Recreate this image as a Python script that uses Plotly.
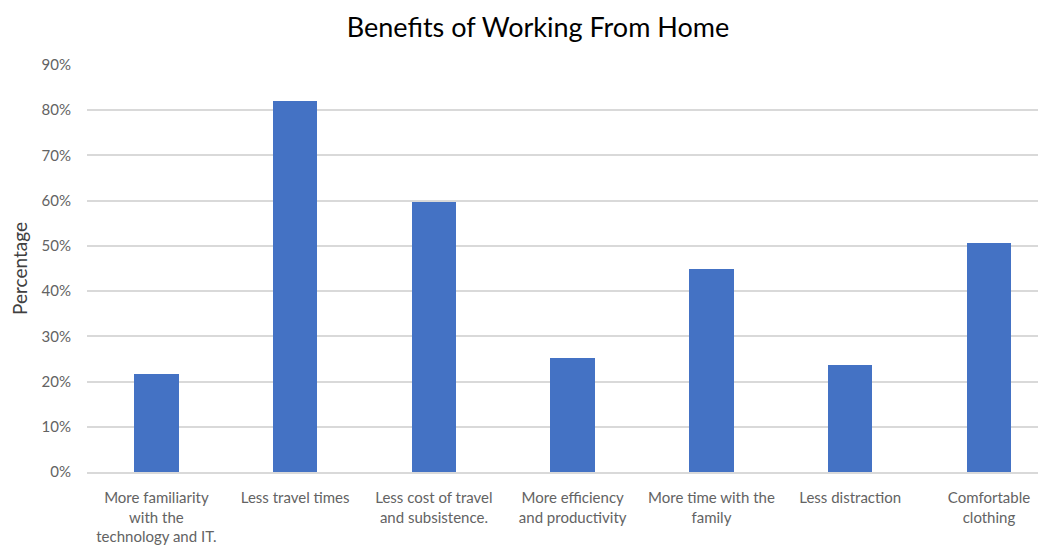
import plotly.graph_objects as go

categories = [
    "More familiarity<br>with the<br>technology and IT.",
    "Less travel times",
    "Less cost of travel<br>and subsistence.",
    "More efficiency<br>and productivity",
    "More time with the<br>family",
    "Less distraction",
    "Comfortable<br>clothing",
]
values = [0.217, 0.821, 0.598, 0.252, 0.450, 0.237, 0.507]
y_ticks = [0, 0.1, 0.2, 0.3, 0.4, 0.5, 0.6, 0.7, 0.8, 0.9]
y_tick_labels = ["0%", "10%", "20%", "30%", "40%", "50%", "60%", "70%", "80%", "90%"]

fig = go.Figure(
    go.Bar(
        x=list(range(len(categories))),
        y=values,
        width=0.32,
        marker=dict(color="#4472C4", line=dict(width=0)),
    )
)

fig.update_layout(
    width=1046,
    height=546,
    paper_bgcolor="white",
    plot_bgcolor="white",
    margin=dict(l=77, r=8, t=57, b=82),
    font=dict(family="Lato, Open Sans, sans-serif", color="#595959"),
    title=dict(
        text="Benefits of Working From Home",
        x=0.5067,
        xanchor="center",
        y=1 - 20 / 546,
        yanchor="middle",
        font=dict(size=27, color="#000000", family="Lato, Open Sans, sans-serif"),
    ),
    showlegend=False,
    bargap=0,
)

fig.update_xaxes(
    range=[-0.5, 6.411],
    tickmode="array",
    tickvals=list(range(len(categories))),
    ticktext=categories,
    tickangle=0,
    tickfont=dict(size=15, color="#636363"),
    showgrid=False,
    showline=True,
    linecolor="#d9d9d9",
    linewidth=2,
    ticks="",
    ticklabelstandoff=11,
    zeroline=False,
)

fig.update_yaxes(
    range=[0, 0.9],
    tickmode="array",
    tickvals=y_ticks,
    ticktext=y_tick_labels,
    tickfont=dict(size=15, color="#636363"),
    showgrid=True,
    gridcolor="#d9d9d9",
    gridwidth=2,
    zeroline=False,
    ticks="",
    ticklabelstandoff=15,
    title=dict(text="Percentage", font=dict(size=19, color="#404040"), standoff=12),
)

fig.write_html("out.html")
